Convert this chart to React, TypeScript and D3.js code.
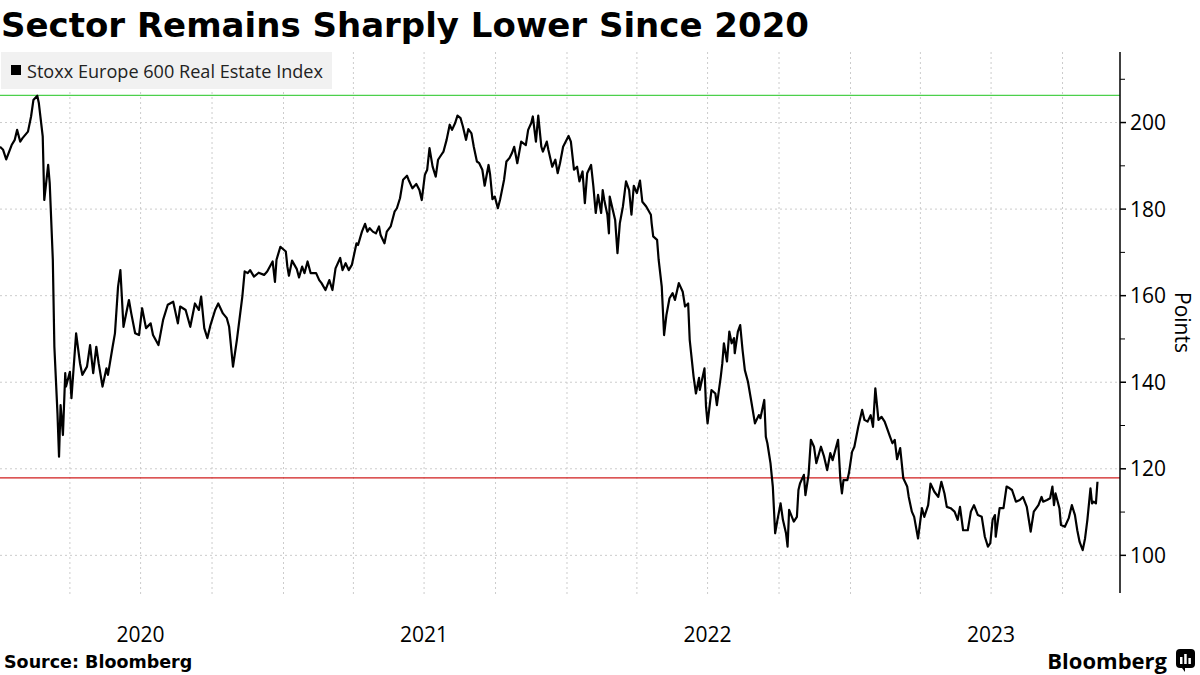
import React from "react";
import * as d3 from "d3";

const TITLE = "Sector Remains Sharply Lower Since 2020";
const SERIES_NAME = "Stoxx Europe 600 Real Estate Index";
const SOURCE = "Source:  Bloomberg";
const Y_TICKS = [100, 120, 140, 160, 180, 200];
const Y_MINOR = [110, 130, 150, 170, 190, 210];
const YEAR_LABELS = ["2020", "2021", "2022", "2023"];
const HIGH_LEVEL = 206.3;
const CURRENT_LEVEL = 117.9;
const X_START = "2020-01-02";
const X_END = "2023-12-14";
const Y_MIN = 91.3;
const Y_MAX = 216.3;

const SERIES: [string, number][] = [
  ["2020-01-02", 194.4], ["2020-01-06", 193.7], ["2020-01-10", 191.5], ["2020-01-17", 194.8],
  ["2020-01-21", 196.0], ["2020-01-24", 198.3], ["2020-01-28", 195.6], ["2020-01-31", 196.4],
  ["2020-02-07", 197.9], ["2020-02-11", 201.4], ["2020-02-14", 205.2], ["2020-02-19", 206.2],
  ["2020-02-21", 204.5], ["2020-02-26", 196.8], ["2020-02-28", 182.1], ["2020-03-04", 190.2],
  ["2020-03-06", 186.0], ["2020-03-10", 168.3], ["2020-03-12", 148.2], ["2020-03-16", 132.8],
  ["2020-03-18", 122.8], ["2020-03-20", 134.7], ["2020-03-23", 127.8], ["2020-03-26", 142.1],
  ["2020-03-27", 139.0], ["2020-04-01", 142.4], ["2020-04-03", 136.3], ["2020-04-09", 151.3],
  ["2020-04-14", 144.4], ["2020-04-17", 141.7], ["2020-04-23", 143.6], ["2020-04-27", 148.6],
  ["2020-05-01", 142.1], ["2020-05-05", 148.2], ["2020-05-08", 144.4], ["2020-05-13", 139.0],
  ["2020-05-18", 143.2], ["2020-05-20", 141.7], ["2020-05-26", 148.2], ["2020-05-29", 151.3],
  ["2020-06-02", 162.1], ["2020-06-05", 165.9], ["2020-06-09", 152.8], ["2020-06-16", 159.0],
  ["2020-06-19", 155.9], ["2020-06-24", 151.3], ["2020-06-29", 150.9], ["2020-07-03", 157.1],
  ["2020-07-08", 152.5], ["2020-07-14", 153.6], ["2020-07-17", 150.9], ["2020-07-24", 148.6],
  ["2020-07-30", 154.4], ["2020-08-05", 157.9], ["2020-08-12", 158.6], ["2020-08-18", 153.6],
  ["2020-08-21", 157.5], ["2020-08-28", 156.7], ["2020-09-03", 152.8], ["2020-09-09", 158.2],
  ["2020-09-14", 156.7], ["2020-09-17", 159.8], ["2020-09-21", 152.5], ["2020-09-25", 150.2],
  ["2020-09-29", 153.2], ["2020-10-05", 156.7], ["2020-10-09", 158.2], ["2020-10-15", 155.9],
  ["2020-10-20", 154.8], ["2020-10-23", 152.8], ["2020-10-28", 143.6], ["2020-11-02", 149.8],
  ["2020-11-06", 155.5], ["2020-11-09", 159.8], ["2020-11-12", 165.6], ["2020-11-16", 165.2],
  ["2020-11-19", 165.9], ["2020-11-24", 164.4], ["2020-11-30", 165.3], ["2020-12-07", 164.8],
  ["2020-12-11", 165.6], ["2020-12-18", 167.9], ["2020-12-21", 163.2], ["2020-12-23", 168.3],
  ["2020-12-28", 171.3], ["2021-01-04", 170.2], ["2021-01-06", 166.7], ["2021-01-08", 164.6],
  ["2021-01-12", 168.1], ["2021-01-18", 166.2], ["2021-01-21", 164.2], ["2021-01-25", 166.7],
  ["2021-01-28", 165.2], ["2021-02-01", 167.9], ["2021-02-05", 165.2], ["2021-02-12", 165.2],
  ["2021-02-16", 163.6], ["2021-02-19", 162.9], ["2021-02-24", 161.3], ["2021-03-01", 163.6],
  ["2021-03-05", 161.3], ["2021-03-09", 166.3], ["2021-03-15", 168.7], ["2021-03-18", 165.9],
  ["2021-03-22", 167.5], ["2021-03-26", 165.9], ["2021-03-30", 167.1], ["2021-04-05", 172.1],
  ["2021-04-07", 171.7], ["2021-04-12", 174.8], ["2021-04-16", 176.6], ["2021-04-19", 174.8],
  ["2021-04-22", 175.6], ["2021-04-26", 174.8], ["2021-04-30", 174.4], ["2021-05-04", 176.0],
  ["2021-05-06", 174.0], ["2021-05-11", 172.1], ["2021-05-14", 174.8], ["2021-05-19", 176.0],
  ["2021-05-24", 179.4], ["2021-05-27", 180.2], ["2021-05-31", 182.5], ["2021-06-04", 186.8],
  ["2021-06-09", 187.7], ["2021-06-11", 186.8], ["2021-06-16", 184.8], ["2021-06-21", 185.8],
  ["2021-06-25", 184.4], ["2021-06-28", 182.1], ["2021-07-02", 187.9], ["2021-07-05", 189.1],
  ["2021-07-08", 194.1], ["2021-07-12", 189.8], ["2021-07-16", 187.5], ["2021-07-19", 191.4],
  ["2021-07-23", 192.5], ["2021-07-26", 193.3], ["2021-07-30", 196.0], ["2021-08-03", 199.5],
  ["2021-08-06", 198.3], ["2021-08-10", 199.9], ["2021-08-13", 201.6], ["2021-08-17", 201.0],
  ["2021-08-20", 199.1], ["2021-08-24", 196.0], ["2021-08-27", 198.5], ["2021-08-31", 197.5],
  ["2021-09-03", 194.4], ["2021-09-07", 191.0], ["2021-09-10", 190.6], ["2021-09-14", 189.1],
  ["2021-09-17", 185.4], ["2021-09-22", 190.2], ["2021-09-24", 188.0], ["2021-09-27", 182.3],
  ["2021-09-30", 182.9], ["2021-10-04", 180.2], ["2021-10-07", 182.3], ["2021-10-12", 186.8],
  ["2021-10-15", 191.0], ["2021-10-19", 191.8], ["2021-10-22", 192.9], ["2021-10-25", 194.4],
  ["2021-10-29", 190.6], ["2021-11-03", 195.6], ["2021-11-09", 194.8], ["2021-11-12", 198.3],
  ["2021-11-16", 199.9], ["2021-11-18", 201.4], ["2021-11-22", 195.6], ["2021-11-25", 201.6],
  ["2021-11-29", 194.4], ["2021-12-01", 193.3], ["2021-12-06", 195.6], ["2021-12-08", 193.7],
  ["2021-12-13", 189.8], ["2021-12-17", 191.4], ["2021-12-20", 188.3], ["2021-12-23", 190.6],
  ["2021-12-27", 194.4], ["2022-01-03", 196.9], ["2022-01-06", 195.6], ["2022-01-10", 189.1],
  ["2022-01-14", 189.8], ["2022-01-17", 186.4], ["2022-01-21", 188.7], ["2022-01-24", 181.4],
  ["2022-01-27", 188.3], ["2022-02-01", 190.2], ["2022-02-04", 185.2], ["2022-02-07", 179.1],
  ["2022-02-10", 183.3], ["2022-02-14", 179.1], ["2022-02-16", 184.4], ["2022-02-18", 182.1],
  ["2022-02-22", 178.7], ["2022-02-24", 174.4], ["2022-02-25", 182.9], ["2022-03-01", 179.8],
  ["2022-03-04", 177.5], ["2022-03-07", 169.8], ["2022-03-10", 176.7], ["2022-03-14", 180.6],
  ["2022-03-18", 186.4], ["2022-03-22", 184.4], ["2022-03-25", 178.7], ["2022-03-28", 185.4],
  ["2022-04-01", 183.7], ["2022-04-05", 186.6], ["2022-04-08", 181.7], ["2022-04-13", 180.6],
  ["2022-04-19", 178.7], ["2022-04-20", 176.7], ["2022-04-22", 173.7], ["2022-04-27", 172.9],
  ["2022-04-29", 168.3], ["2022-05-03", 162.1], ["2022-05-06", 150.9], ["2022-05-09", 155.5],
  ["2022-05-13", 159.4], ["2022-05-17", 160.6], ["2022-05-20", 159.0], ["2022-05-25", 162.9],
  ["2022-05-30", 160.9], ["2022-06-02", 157.5], ["2022-06-06", 158.2], ["2022-06-08", 149.8],
  ["2022-06-13", 141.3], ["2022-06-16", 137.4], ["2022-06-20", 141.0], ["2022-06-21", 138.2],
  ["2022-06-27", 143.2], ["2022-06-29", 134.4], ["2022-07-01", 130.5], ["2022-07-06", 138.2],
  ["2022-07-11", 137.4], ["2022-07-13", 134.7], ["2022-07-18", 141.3], ["2022-07-20", 144.4],
  ["2022-07-22", 149.0], ["2022-07-26", 144.8], ["2022-07-29", 151.7], ["2022-08-01", 149.0],
  ["2022-08-04", 150.2], ["2022-08-05", 146.7], ["2022-08-09", 151.7], ["2022-08-12", 153.2],
  ["2022-08-15", 147.5], ["2022-08-18", 142.8], ["2022-08-22", 140.1], ["2022-08-26", 135.9],
  ["2022-08-31", 130.5], ["2022-09-05", 132.4], ["2022-09-07", 131.7], ["2022-09-12", 135.9],
  ["2022-09-14", 127.4], ["2022-09-16", 125.9], ["2022-09-20", 121.3], ["2022-09-23", 115.9],
  ["2022-09-26", 105.1], ["2022-09-29", 108.2], ["2022-10-03", 112.0], ["2022-10-06", 108.2],
  ["2022-10-10", 105.1], ["2022-10-12", 102.0], ["2022-10-14", 110.5], ["2022-10-20", 107.8],
  ["2022-10-24", 108.9], ["2022-10-26", 115.1], ["2022-10-28", 116.6], ["2022-11-02", 118.6],
  ["2022-11-04", 113.9], ["2022-11-08", 118.6], ["2022-11-11", 126.7], ["2022-11-15", 125.1],
  ["2022-11-18", 121.3], ["2022-11-24", 125.1], ["2022-11-28", 122.8], ["2022-12-02", 119.7],
  ["2022-12-06", 123.6], ["2022-12-09", 122.0], ["2022-12-16", 126.7], ["2022-12-19", 117.4],
  ["2022-12-21", 114.3], ["2022-12-23", 117.4], ["2022-12-28", 117.4], ["2022-12-30", 119.0],
  ["2023-01-03", 123.9], ["2023-01-06", 125.1], ["2023-01-11", 129.7], ["2023-01-16", 133.6],
  ["2023-01-19", 131.3], ["2023-01-23", 130.9], ["2023-01-27", 132.4], ["2023-01-30", 129.7],
  ["2023-02-02", 138.6], ["2023-02-06", 131.3], ["2023-02-10", 132.0], ["2023-02-14", 130.9],
  ["2023-02-17", 129.4], ["2023-02-21", 127.4], ["2023-02-24", 125.9], ["2023-02-27", 126.7],
  ["2023-03-02", 122.2], ["2023-03-06", 124.8], ["2023-03-10", 117.8], ["2023-03-15", 115.9],
  ["2023-03-17", 113.5], ["2023-03-21", 110.1], ["2023-03-24", 108.9], ["2023-03-29", 103.9],
  ["2023-04-03", 110.9], ["2023-04-06", 108.9], ["2023-04-11", 111.6], ["2023-04-14", 116.6],
  ["2023-04-19", 114.7], ["2023-04-24", 113.5], ["2023-04-28", 117.0], ["2023-05-02", 114.3],
  ["2023-05-05", 111.2], ["2023-05-10", 110.9], ["2023-05-15", 110.1], ["2023-05-19", 108.2],
  ["2023-05-22", 111.2], ["2023-05-26", 105.8], ["2023-06-01", 105.8], ["2023-06-05", 110.1],
  ["2023-06-09", 111.6], ["2023-06-14", 109.3], ["2023-06-19", 108.9], ["2023-06-23", 104.3],
  ["2023-06-27", 102.0], ["2023-06-30", 102.8], ["2023-07-03", 108.2], ["2023-07-06", 109.3],
  ["2023-07-07", 104.3], ["2023-07-12", 110.9], ["2023-07-17", 110.9], ["2023-07-21", 115.9],
  ["2023-07-25", 115.5], ["2023-07-28", 115.1], ["2023-08-02", 112.4], ["2023-08-07", 112.8],
  ["2023-08-11", 113.5], ["2023-08-16", 111.2], ["2023-08-21", 105.5], ["2023-08-25", 110.1],
  ["2023-08-31", 111.6], ["2023-09-04", 113.5], ["2023-09-06", 112.4], ["2023-09-11", 112.8],
  ["2023-09-15", 113.2], ["2023-09-18", 115.9], ["2023-09-20", 111.6], ["2023-09-22", 114.3],
  ["2023-09-27", 110.9], ["2023-09-29", 107.0], ["2023-10-04", 106.6], ["2023-10-09", 108.6],
  ["2023-10-13", 111.6], ["2023-10-17", 109.3], ["2023-10-20", 105.8], ["2023-10-23", 103.1],
  ["2023-10-27", 101.2], ["2023-10-30", 103.9], ["2023-11-02", 108.2], ["2023-11-06", 115.5],
  ["2023-11-08", 112.0], ["2023-11-10", 112.4], ["2023-11-13", 112.0], ["2023-11-15", 117.0],
];

const W = 1200;
const H = 675;
const PLOT = { left: 0, right: 1120, top: 52, bottom: 593 };
const FONT = "'Open Sans', 'Noto Sans', sans-serif";
const BOLD = "'DejaVu Sans', sans-serif";

export default function App() {
  const parse = d3.utcParse("%Y-%m-%d");
  const data = SERIES.map(([d, v]) => ({ date: parse(d) as Date, value: v }));
  const x = d3
    .scaleUtc()
    .domain([parse(X_START) as Date, parse(X_END) as Date])
    .range([PLOT.left, PLOT.right]);
  const y = d3.scaleLinear().domain([Y_MIN, Y_MAX]).range([PLOT.bottom, PLOT.top]);
  const line = d3
    .line<{ date: Date; value: number }>()
    .x((d) => x(d.date))
    .y((d) => y(d.value));

  const quarters = d3.utcMonth
    .every(3)!
    .range(parse(X_START) as Date, parse(X_END) as Date)
    .filter((d) => x(d) > 2);
  const yearMids = YEAR_LABELS.map((yr) => ({ label: yr, date: new Date(Date.UTC(+yr, 6, 1)) }));

  return (
    <svg
      width={W}
      height={H}
      viewBox={`0 0 ${W} ${H}`}
      style={{ position: "absolute", left: 0, top: 0, background: "#fff" }}
    >
      <rect x={0} y={0} width={W} height={H} fill="#fff" />
      <text x={1} y={37} fontFamily={BOLD} fontWeight="bold" fontSize={34} fill="#000">
        {TITLE}
      </text>

      {/* vertical grid */}
      {quarters.map((q, i) => (
        <line
          key={"vg" + i}
          x1={x(q)}
          x2={x(q)}
          y1={PLOT.top}
          y2={PLOT.bottom + 3}
          stroke="#cccccc"
          strokeWidth={1}
          strokeDasharray="2,3"
        />
      ))}
      {/* horizontal grid */}
      {Y_TICKS.map((t) => (
        <line
          key={"hg" + t}
          x1={PLOT.left}
          x2={PLOT.right}
          y1={y(t)}
          y2={y(t)}
          stroke="#cccccc"
          strokeWidth={1}
          strokeDasharray="2,3"
        />
      ))}

      {/* legend */}
      <rect x={1} y={52} width={331} height={37} fill="#f1f1f1" />
      <rect x={11} y={65} width={10} height={10} fill="#000" />
      <text x={27} y={77.5} fontFamily={FONT} fontSize={18.1} fill="#222">
        {SERIES_NAME}
      </text>

      {/* reference lines */}
      <line x1={PLOT.left} x2={PLOT.right} y1={y(HIGH_LEVEL)} y2={y(HIGH_LEVEL)} stroke="#4cd04c" strokeWidth={1.2} />
      <line x1={PLOT.left} x2={PLOT.right} y1={y(CURRENT_LEVEL)} y2={y(CURRENT_LEVEL)} stroke="#d01c1c" strokeWidth={1.2} />

      {/* series */}
      <path d={line(data) || ""} fill="none" stroke="#000" strokeWidth={2.2} strokeLinejoin="round" />

      {/* right axis */}
      <line x1={PLOT.right} x2={PLOT.right} y1={PLOT.top} y2={PLOT.bottom} stroke="#000" strokeWidth={1.5} />
      {Y_MINOR.map((t) => (
        <line key={"mt" + t} x1={PLOT.right} x2={PLOT.right + 5} y1={y(t)} y2={y(t)} stroke="#000" strokeWidth={1} />
      ))}
      {Y_TICKS.map((t) => (
        <g key={"yt" + t}>
          <line x1={PLOT.right} x2={PLOT.right + 6} y1={y(t)} y2={y(t)} stroke="#000" strokeWidth={1.5} />
          <text
            x={PLOT.right + 10}
            y={y(t)}
            dy="0.36em"
            fontFamily={FONT}
            fontSize={21}
            fill="#000"
          >
            {t}
          </text>
        </g>
      ))}
      <text
        transform={`translate(1175, ${(PLOT.top + PLOT.bottom) / 2}) rotate(90)`}
        textAnchor="middle"
        fontFamily={FONT}
        fontSize={21}
        fill="#000"
      >
        Points
      </text>

      {/* year labels */}
      {yearMids.map((m) => (
        <text
          key={m.label}
          x={x(m.date)}
          y={642}
          textAnchor="middle"
          fontFamily={FONT}
          fontSize={21}
          fill="#000"
        >
          {m.label}
        </text>
      ))}

      {/* footer */}
      <text x={4} y={668} fontFamily={BOLD} fontWeight="bold" fontSize={17.5} fill="#000">
        {SOURCE}
      </text>
      <text x={1167} y={669} textAnchor="end" fontFamily={FONT} fontWeight="bold" fontSize={22} fill="#000">
        Bloomberg
      </text>
      <g transform="translate(1176, 649)">
        <rect x={0} y={0} width={19} height={19} rx={4} fill="#000" />
        <path d="M6 19 L9 23 L9 19 Z" fill="#000" />
        <rect x={4} y={8} width={2.5} height={7} fill="#fff" />
        <rect x={8.2} y={5} width={2.5} height={10} fill="#fff" />
        <rect x={12.4} y={9} width={2.5} height={6} fill="#fff" />
      </g>
    </svg>
  );
}
